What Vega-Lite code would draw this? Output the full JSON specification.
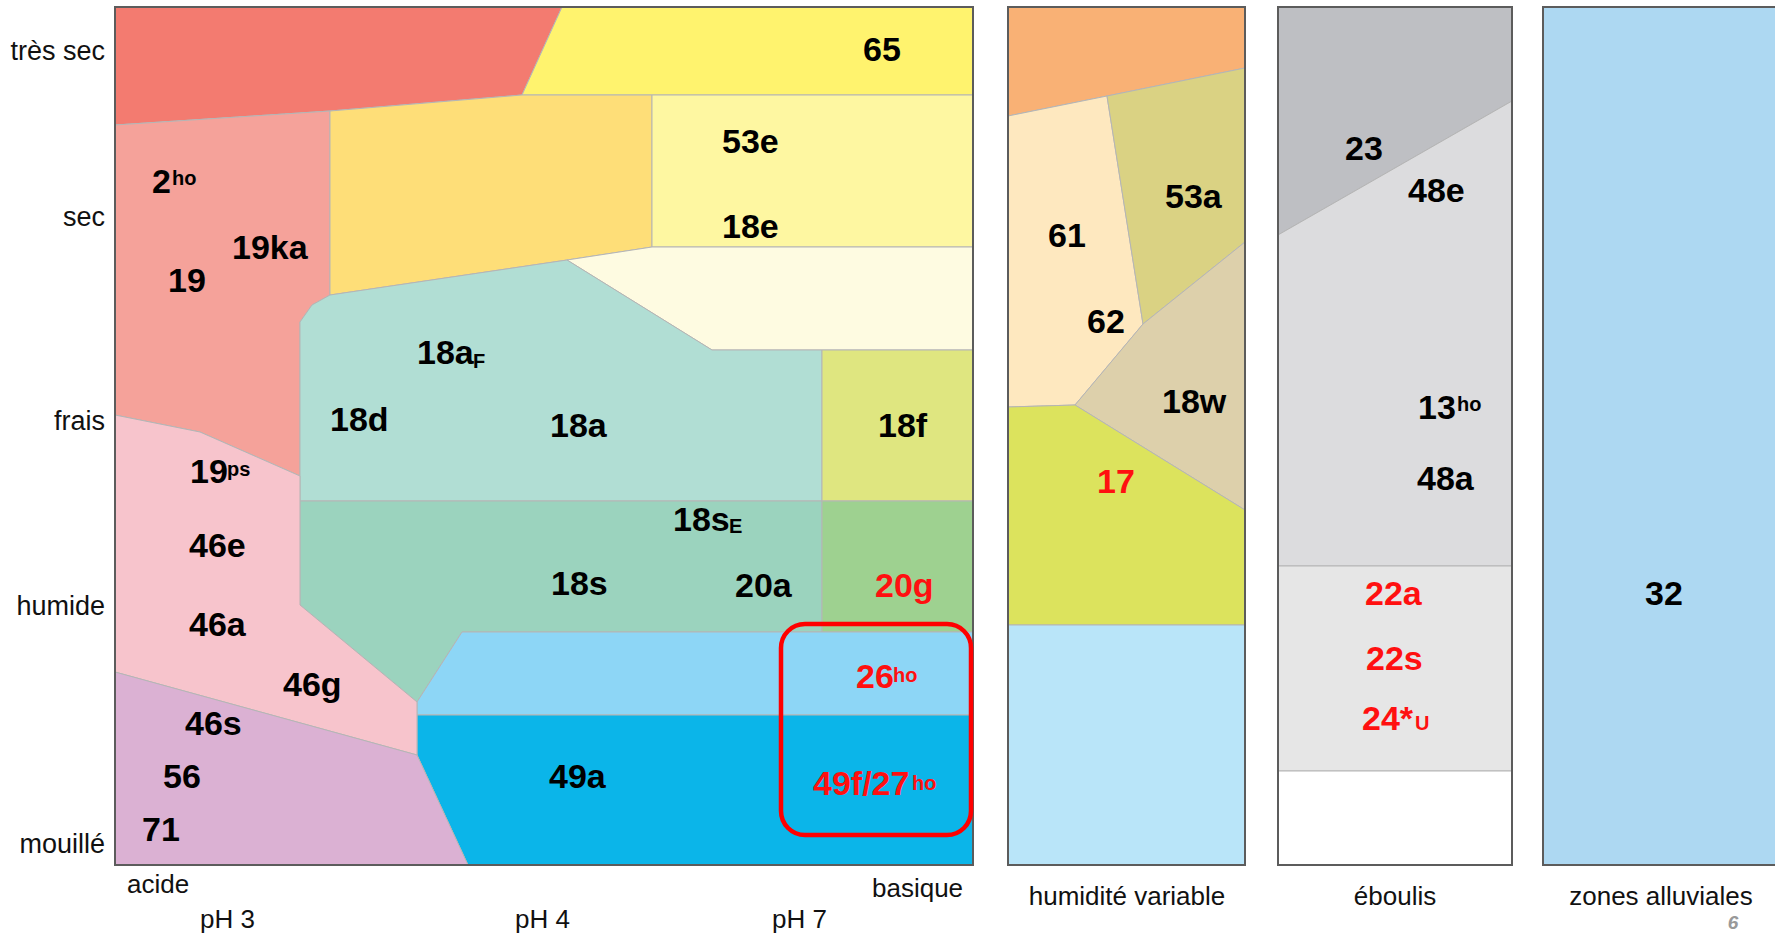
{
  "$schema": "https://vega.github.io/schema/vega-lite/v6.json",
  "width": 1775,
  "height": 933,
  "autosize": {"type": "none"},
  "padding": 0,
  "background": "white",
  "config": {"view": {"stroke": null}},
  "datasets": {
    "regions": [
      {"r": "très sec acide", "i": 0, "x": 115, "y": 7}, {"r": "très sec acide", "i": 1, "x": 562, "y": 7}, {"r": "très sec acide", "i": 2, "x": 522, "y": 95}, {"r": "très sec acide", "i": 3, "x": 330, "y": 111}, {"r": "très sec acide", "i": 4, "x": 115, "y": 125},
      {"r": "65", "i": 0, "x": 562, "y": 7}, {"r": "65", "i": 1, "x": 973, "y": 7}, {"r": "65", "i": 2, "x": 973, "y": 95}, {"r": "65", "i": 3, "x": 522, "y": 95},
      {"r": "19", "i": 0, "x": 115, "y": 125}, {"r": "19", "i": 1, "x": 330, "y": 111}, {"r": "19", "i": 2, "x": 330, "y": 295}, {"r": "19", "i": 3, "x": 312, "y": 305}, {"r": "19", "i": 4, "x": 300, "y": 322}, {"r": "19", "i": 5, "x": 300, "y": 476}, {"r": "19", "i": 6, "x": 200, "y": 432}, {"r": "19", "i": 7, "x": 115, "y": 415},
      {"r": "sec moyen", "i": 0, "x": 330, "y": 111}, {"r": "sec moyen", "i": 1, "x": 522, "y": 95}, {"r": "sec moyen", "i": 2, "x": 652, "y": 95}, {"r": "sec moyen", "i": 3, "x": 652, "y": 247}, {"r": "sec moyen", "i": 4, "x": 567, "y": 260}, {"r": "sec moyen", "i": 5, "x": 330, "y": 295},
      {"r": "53e", "i": 0, "x": 652, "y": 95}, {"r": "53e", "i": 1, "x": 973, "y": 95}, {"r": "53e", "i": 2, "x": 973, "y": 247}, {"r": "53e", "i": 3, "x": 652, "y": 247},
      {"r": "sec basique", "i": 0, "x": 567, "y": 260}, {"r": "sec basique", "i": 1, "x": 652, "y": 247}, {"r": "sec basique", "i": 2, "x": 973, "y": 247}, {"r": "sec basique", "i": 3, "x": 973, "y": 350}, {"r": "sec basique", "i": 4, "x": 712, "y": 350},
      {"r": "18a", "i": 0, "x": 330, "y": 295}, {"r": "18a", "i": 1, "x": 567, "y": 260}, {"r": "18a", "i": 2, "x": 712, "y": 350}, {"r": "18a", "i": 3, "x": 822, "y": 350}, {"r": "18a", "i": 4, "x": 822, "y": 501}, {"r": "18a", "i": 5, "x": 300, "y": 501}, {"r": "18a", "i": 6, "x": 300, "y": 322}, {"r": "18a", "i": 7, "x": 312, "y": 305},
      {"r": "18f", "i": 0, "x": 822, "y": 350}, {"r": "18f", "i": 1, "x": 973, "y": 350}, {"r": "18f", "i": 2, "x": 973, "y": 501}, {"r": "18f", "i": 3, "x": 822, "y": 501},
      {"r": "18s", "i": 0, "x": 300, "y": 501}, {"r": "18s", "i": 1, "x": 822, "y": 501}, {"r": "18s", "i": 2, "x": 822, "y": 632}, {"r": "18s", "i": 3, "x": 462, "y": 632}, {"r": "18s", "i": 4, "x": 417, "y": 702}, {"r": "18s", "i": 5, "x": 300, "y": 605},
      {"r": "20g", "i": 0, "x": 822, "y": 501}, {"r": "20g", "i": 1, "x": 973, "y": 501}, {"r": "20g", "i": 2, "x": 973, "y": 632}, {"r": "20g", "i": 3, "x": 822, "y": 632},
      {"r": "26", "i": 0, "x": 462, "y": 632}, {"r": "26", "i": 1, "x": 973, "y": 632}, {"r": "26", "i": 2, "x": 973, "y": 715}, {"r": "26", "i": 3, "x": 417, "y": 715}, {"r": "26", "i": 4, "x": 417, "y": 702},
      {"r": "49a", "i": 0, "x": 417, "y": 715}, {"r": "49a", "i": 1, "x": 973, "y": 715}, {"r": "49a", "i": 2, "x": 973, "y": 865}, {"r": "49a", "i": 3, "x": 468, "y": 865}, {"r": "49a", "i": 4, "x": 417, "y": 755},
      {"r": "46", "i": 0, "x": 115, "y": 415}, {"r": "46", "i": 1, "x": 200, "y": 432}, {"r": "46", "i": 2, "x": 300, "y": 476}, {"r": "46", "i": 3, "x": 300, "y": 605}, {"r": "46", "i": 4, "x": 417, "y": 702}, {"r": "46", "i": 5, "x": 417, "y": 755}, {"r": "46", "i": 6, "x": 115, "y": 672},
      {"r": "56", "i": 0, "x": 115, "y": 672}, {"r": "56", "i": 1, "x": 417, "y": 755}, {"r": "56", "i": 2, "x": 468, "y": 865}, {"r": "56", "i": 3, "x": 115, "y": 865},
      {"r": "hv sec", "i": 0, "x": 1008, "y": 7}, {"r": "hv sec", "i": 1, "x": 1245, "y": 7}, {"r": "hv sec", "i": 2, "x": 1245, "y": 68}, {"r": "hv sec", "i": 3, "x": 1107, "y": 96}, {"r": "hv sec", "i": 4, "x": 1008, "y": 116},
      {"r": "61", "i": 0, "x": 1008, "y": 116}, {"r": "61", "i": 1, "x": 1107, "y": 96}, {"r": "61", "i": 2, "x": 1143, "y": 324}, {"r": "61", "i": 3, "x": 1075, "y": 405}, {"r": "61", "i": 4, "x": 1008, "y": 407},
      {"r": "53a", "i": 0, "x": 1107, "y": 96}, {"r": "53a", "i": 1, "x": 1245, "y": 68}, {"r": "53a", "i": 2, "x": 1245, "y": 242}, {"r": "53a", "i": 3, "x": 1143, "y": 324},
      {"r": "18w", "i": 0, "x": 1143, "y": 324}, {"r": "18w", "i": 1, "x": 1245, "y": 242}, {"r": "18w", "i": 2, "x": 1245, "y": 510}, {"r": "18w", "i": 3, "x": 1075, "y": 405},
      {"r": "17", "i": 0, "x": 1008, "y": 407}, {"r": "17", "i": 1, "x": 1075, "y": 405}, {"r": "17", "i": 2, "x": 1245, "y": 510}, {"r": "17", "i": 3, "x": 1245, "y": 625}, {"r": "17", "i": 4, "x": 1008, "y": 625},
      {"r": "hv humide", "i": 0, "x": 1008, "y": 625}, {"r": "hv humide", "i": 1, "x": 1245, "y": 625}, {"r": "hv humide", "i": 2, "x": 1245, "y": 865}, {"r": "hv humide", "i": 3, "x": 1008, "y": 865},
      {"r": "23", "i": 0, "x": 1278, "y": 7}, {"r": "23", "i": 1, "x": 1512, "y": 7}, {"r": "23", "i": 2, "x": 1512, "y": 101}, {"r": "23", "i": 3, "x": 1278, "y": 235},
      {"r": "48", "i": 0, "x": 1278, "y": 235}, {"r": "48", "i": 1, "x": 1512, "y": 101}, {"r": "48", "i": 2, "x": 1512, "y": 566}, {"r": "48", "i": 3, "x": 1278, "y": 566},
      {"r": "22", "i": 0, "x": 1278, "y": 566}, {"r": "22", "i": 1, "x": 1512, "y": 566}, {"r": "22", "i": 2, "x": 1512, "y": 771}, {"r": "22", "i": 3, "x": 1278, "y": 771},
      {"r": "éboulis humide", "i": 0, "x": 1278, "y": 771}, {"r": "éboulis humide", "i": 1, "x": 1512, "y": 771}, {"r": "éboulis humide", "i": 2, "x": 1512, "y": 865}, {"r": "éboulis humide", "i": 3, "x": 1278, "y": 865},
      {"r": "32", "i": 0, "x": 1543, "y": 7}, {"r": "32", "i": 1, "x": 1780, "y": 7}, {"r": "32", "i": 2, "x": 1780, "y": 865}, {"r": "32", "i": 3, "x": 1543, "y": 865}
    ],
    "panels": [
      {"panneau": "pH", "x": 115, "x2": 973, "y": 7, "y2": 865},
      {"panneau": "humidité variable", "x": 1008, "x2": 1245, "y": 7, "y2": 865},
      {"panneau": "éboulis", "x": 1278, "x2": 1512, "y": 7, "y2": 865},
      {"panneau": "zones alluviales", "x": 1543, "x2": 1782, "y": 7, "y2": 865}
    ],
    "encadre": [
      {"x": 781, "x2": 971, "y": 624, "y2": 835}
    ],
    "labels": [
      {"t": "2", "x": 152, "y": 193, "m": "non"},
      {"t": "19ka", "x": 232, "y": 259, "m": "non"},
      {"t": "19", "x": 168, "y": 292, "m": "non"},
      {"t": "18a", "x": 417, "y": 364, "m": "non"},
      {"t": "18d", "x": 330, "y": 431, "m": "non"},
      {"t": "65", "x": 863, "y": 61, "m": "non"},
      {"t": "53e", "x": 722, "y": 153, "m": "non"},
      {"t": "18e", "x": 722, "y": 238, "m": "non"},
      {"t": "18a", "x": 550, "y": 437, "m": "non"},
      {"t": "18f", "x": 878, "y": 437, "m": "non"},
      {"t": "19", "x": 190, "y": 483, "m": "non"},
      {"t": "46e", "x": 189, "y": 557, "m": "non"},
      {"t": "46a", "x": 189, "y": 636, "m": "non"},
      {"t": "46g", "x": 283, "y": 696, "m": "non"},
      {"t": "46s", "x": 185, "y": 735, "m": "non"},
      {"t": "56", "x": 163, "y": 788, "m": "non"},
      {"t": "71", "x": 142, "y": 841, "m": "non"},
      {"t": "18s", "x": 673, "y": 531, "m": "non"},
      {"t": "18s", "x": 551, "y": 595, "m": "non"},
      {"t": "20a", "x": 735, "y": 597, "m": "non"},
      {"t": "20g", "x": 875, "y": 597, "m": "oui"},
      {"t": "26", "x": 856, "y": 688, "m": "oui"},
      {"t": "49a", "x": 549, "y": 788, "m": "non"},
      {"t": "49f/27", "x": 813, "y": 795, "m": "oui"},
      {"t": "61", "x": 1048, "y": 247, "m": "non"},
      {"t": "62", "x": 1087, "y": 333, "m": "non"},
      {"t": "53a", "x": 1165, "y": 208, "m": "non"},
      {"t": "18w", "x": 1162, "y": 413, "m": "non"},
      {"t": "17", "x": 1097, "y": 493, "m": "oui"},
      {"t": "23", "x": 1345, "y": 160, "m": "non"},
      {"t": "48e", "x": 1408, "y": 202, "m": "non"},
      {"t": "13", "x": 1418, "y": 419, "m": "non"},
      {"t": "48a", "x": 1417, "y": 490, "m": "non"},
      {"t": "22a", "x": 1365, "y": 605, "m": "oui"},
      {"t": "22s", "x": 1366, "y": 670, "m": "oui"},
      {"t": "24*", "x": 1362, "y": 730, "m": "oui"},
      {"t": "32", "x": 1645, "y": 605, "m": "non"}
    ],
    "indices": [
      {"t": "ho", "x": 172, "y": 185, "m": "non"},
      {"t": "F", "x": 473, "y": 368, "m": "non"},
      {"t": "ps", "x": 227, "y": 476, "m": "non"},
      {"t": "E", "x": 729, "y": 533, "m": "non"},
      {"t": "ho", "x": 893, "y": 682, "m": "oui"},
      {"t": "ho", "x": 912, "y": 790, "m": "oui"},
      {"t": "ho", "x": 1457, "y": 411, "m": "non"},
      {"t": "U", "x": 1415, "y": 730, "m": "oui"}
    ],
    "humidite": [
      {"t": "très sec", "x": 105, "y": 60},
      {"t": "sec", "x": 105, "y": 226},
      {"t": "frais", "x": 105, "y": 430},
      {"t": "humide", "x": 105, "y": 615},
      {"t": "mouillé", "x": 105, "y": 853}
    ],
    "ph": [
      {"t": "acide", "x": 127, "y": 893},
      {"t": "basique", "x": 872, "y": 897},
      {"t": "pH 3", "x": 200, "y": 928},
      {"t": "pH 4", "x": 515, "y": 928},
      {"t": "pH 7", "x": 772, "y": 928}
    ],
    "noms": [
      {"t": "humidité variable", "x": 1127, "y": 905},
      {"t": "éboulis", "x": 1395, "y": 905},
      {"t": "zones alluviales", "x": 1661, "y": 905}
    ],
    "page": [
      {"t": "6", "x": 1733, "y": 929}
    ]
  },
  "encoding": {
    "x": {"field": "x", "type": "quantitative", "scale": {"domain": [0, 1775], "nice": false, "zero": false}, "axis": null},
    "y": {"field": "y", "type": "quantitative", "scale": {"domain": [0, 933], "reverse": true, "nice": false, "zero": false}, "axis": null}
  },
  "layer": [
    {
      "data": {"name": "regions"},
      "mark": {"type": "line", "interpolate": "linear-closed", "stroke": "#b5b5b5", "strokeWidth": 1, "clip": true},
      "encoding": {
        "order": {"field": "i", "type": "quantitative"},
        "detail": {"field": "r", "type": "nominal"},
        "fill": {
          "field": "r", "type": "nominal", "legend": null,
          "scale": {
            "domain": ["très sec acide", "65", "19", "sec moyen", "53e", "sec basique", "18a", "18f", "18s", "20g", "26", "49a", "46", "56", "hv sec", "61", "53a", "18w", "17", "hv humide", "23", "48", "22", "éboulis humide", "32"],
            "range": ["#f37b70", "#fff36e", "#f5a29a", "#fede78", "#fef7a1", "#fefbe1", "#b1ded4", "#dfe680", "#9bd3be", "#9ed190", "#8dd6f6", "#0bb5e9", "#f7c4cc", "#dbb1d3", "#f9b175", "#fee8bf", "#dad283", "#ddd0ab", "#dce35d", "#b9e5f9", "#bebfc3", "#dcdcde", "#e6e6e6", "#ffffff", "#add8f2"]
          }
        }
      }
    },
    {
      "data": {"name": "panels"},
      "mark": {"type": "rect", "fillOpacity": 0, "stroke": "#5c5c5c", "strokeWidth": 2, "clip": true},
      "encoding": {
        "x2": {"field": "x2"},
        "y2": {"field": "y2"}
      }
    },
    {
      "data": {"name": "encadre"},
      "mark": {"type": "rect", "fillOpacity": 0, "stroke": "#ff0000", "strokeWidth": 4.5, "cornerRadius": 24},
      "encoding": {
        "x2": {"field": "x2"},
        "y2": {"field": "y2"}
      }
    },
    {
      "data": {"name": "labels"},
      "mark": {"type": "text", "align": "left", "baseline": "alphabetic", "font": "Liberation Sans", "fontWeight": "bold", "fontSize": 34},
      "encoding": {
        "text": {"field": "t"},
        "color": {"field": "m", "type": "nominal", "legend": null, "scale": {"domain": ["non", "oui"], "range": ["#000000", "#ff1010"]}}
      }
    },
    {
      "data": {"name": "indices"},
      "mark": {"type": "text", "align": "left", "baseline": "alphabetic", "font": "Liberation Sans", "fontWeight": "bold", "fontSize": 20},
      "encoding": {
        "text": {"field": "t"},
        "color": {"field": "m", "type": "nominal", "legend": null, "scale": {"domain": ["non", "oui"], "range": ["#000000", "#ff1010"]}}
      }
    },
    {
      "data": {"name": "humidite"},
      "mark": {"type": "text", "align": "right", "baseline": "alphabetic", "font": "Liberation Sans", "fontSize": 27, "color": "#111111"},
      "encoding": {"text": {"field": "t"}}
    },
    {
      "data": {"name": "ph"},
      "mark": {"type": "text", "align": "left", "baseline": "alphabetic", "font": "Liberation Sans", "fontSize": 26, "color": "#111111"},
      "encoding": {"text": {"field": "t"}}
    },
    {
      "data": {"name": "noms"},
      "mark": {"type": "text", "align": "center", "baseline": "alphabetic", "font": "Liberation Sans", "fontSize": 26, "color": "#111111"},
      "encoding": {"text": {"field": "t"}}
    },
    {
      "data": {"name": "page"},
      "mark": {"type": "text", "align": "center", "baseline": "alphabetic", "font": "Liberation Sans", "fontSize": 19, "fontStyle": "italic", "fontWeight": "bold", "color": "#999999"},
      "encoding": {"text": {"field": "t"}}
    }
  ]
}
